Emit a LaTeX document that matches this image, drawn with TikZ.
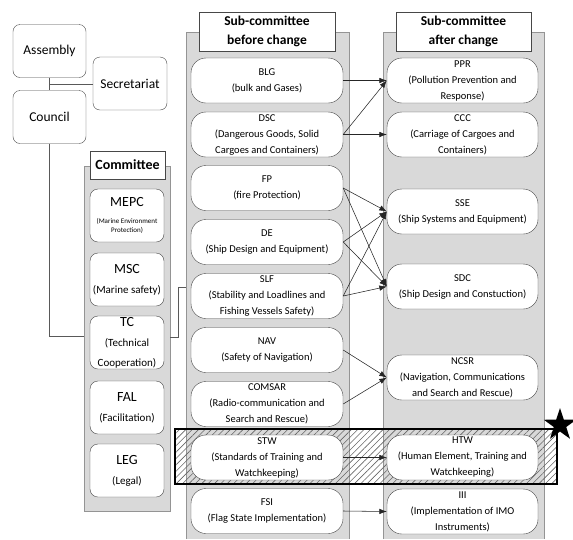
\documentclass[tikz,border=0pt]{standalone}
\usepackage{fontspec}
\setmainfont{Carlito}
\usetikzlibrary{arrows.meta}
\usetikzlibrary{patterns.meta}
\usetikzlibrary{shapes.geometric}
\colorlet{panelbg}{black!15}
\colorlet{panelrule}{black!42}
\colorlet{boxrule}{black!72}
\newcommand{\comname}[1]{{\fontsize{14}{20}\selectfont #1}}
\newcommand{\comfine}[1]{{\fontsize{7}{9}\selectfont #1}}
\tikzset{
  panel/.style={fill=panelbg,draw=panelrule,line width=0.6pt},
  orgbox/.style={draw=boxrule,fill=white,rounded corners=7pt,
    minimum width=73pt,minimum height=53pt,
    font=\fontsize{13.5}{16}\selectfont},
  headbox/.style={draw=boxrule,fill=white,align=center,inner sep=1pt,
    font=\bfseries\fontsize{13.5}{19}\selectfont},
  combox/.style={draw=boxrule,fill=white,rounded corners=8pt,align=center,
    minimum width=74pt,minimum height=53pt,inner sep=1pt,
    font=\fontsize{11}{20}\selectfont},
  subbox/.style={draw=boxrule,fill=white,rounded corners=15pt,align=center,
    minimum width=152pt,minimum height=45pt,inner sep=1pt,
    font=\fontsize{10.5}{16}\selectfont},
  move/.style={-{Latex[length=7.5pt,width=5.5pt]},draw=black!85,line width=0.55pt},
  wire/.style={draw=black!65,line width=0.6pt}
}

\begin{document}
\begin{tikzpicture}[x=1pt,y=-1pt]
    \useasboundingbox (0,0) rectangle (573,539);
    % Panels
    \draw[panel] (84,166) rectangle (170,511);
    \fill[panelbg] (186,32) rectangle (349,539);
    \draw[panelrule,line width=0.6pt] (186,539) -- (186,32) -- (349,32) -- (349,539);
    \fill[panelbg] (383,32) rectangle (544,539);
    \draw[panelrule,line width=0.6pt] (383,539) -- (383,32) -- (544,32) -- (544,539);
    % Changed row
    \draw[line width=2.2pt,pattern={Lines[angle=45,distance=4.5pt,line width=0.6pt]},
      pattern color=black!60] (175,429) rectangle (557,484);
    % Headers
    \node[headbox,minimum width=136pt,minimum height=39pt] (hbefore)
      at (267,31.5) {Sub-committee\\before change};
    \node[headbox,minimum width=135pt,minimum height=39pt] (hafter)
      at (463.5,31.5) {Sub-committee\\after change};
    \node[headbox,minimum width=75pt,minimum height=28pt,
      font=\bfseries\fontsize{14}{16}\selectfont] (hcom) at (127.5,165) {Committee};
    % Organs
    \node[orgbox] (assembly) at (49.5,51) {Assembly};
    \node[orgbox] (council) at (49.5,117) {Council};
    \node[orgbox,minimum width=74pt] (secretariat) at (130,83.5) {Secretariat};
    \coordinate (split) at (49.5,84);
    \coordinate (comin) at (84,336);
    \coordinate (tcout) at (170,337);
    \coordinate (slfin) at (186,287);
    \draw[wire] (assembly) -- (council);
    \draw[wire] (split) -- (split -| secretariat.west);
    \draw[wire] (council) |- (comin);
    \draw[wire] (tcout) -- ++(8,0) |- (slfin);
    % Committees
    \node[combox] (mepc) at (127,215.5)
      {\comname{MEPC}\\[-3pt]\comfine{(Marine Environment}\\[-11pt]\comfine{Protection)}};
    \node[combox] (msc) at (127,279.5) {\comname{MSC}\\(Marine safety)};
    \node[combox] (tc) at (127,342.5) {\comname{TC}\\(Technical\\Cooperation)};
    \node[combox] (fal) at (127,407.5) {\comname{FAL}\\(Facilitation)};
    \node[combox] (leg) at (127,470.5) {\comname{LEG}\\(Legal)};
    % Sub-committees before
    \node[subbox] (blg) at (267,80.5) {BLG\\(bulk and Gases)};
    \node[subbox] (dsc) at (267,134.5) {DSC\\(Dangerous Goods, Solid\\Cargoes and Containers)};
    \node[subbox] (fp) at (267,188) {FP\\(fire Protection)};
    \node[subbox] (de) at (267,242) {DE\\(Ship Design and Equipment)};
    \node[subbox] (slf) at (267,296) {SLF\\(Stability and Loadlines and\\Fishing Vessels Safety)};
    \node[subbox] (nav) at (267,350) {NAV\\(Safety of Navigation)};
    \node[subbox] (comsar) at (267,404) {COMSAR\\(Radio-communication and\\Search and Rescue)};
    \node[subbox] (stw) at (267,457.5) {STW\\(Standards of Training and\\Watchkeeping)};
    \node[subbox] (fsi) at (267,511) {FSI\\(Flag State Implementation)};
    % Sub-committees after
    \node[subbox,minimum width=151pt] (ppr) at (462.5,80.5) {PPR\\(Pollution Prevention and\\Response)};
    \node[subbox,minimum width=151pt] (ccc) at (462.5,134.5) {CCC\\(Carriage of Cargoes and\\Containers)};
    \node[subbox,minimum width=151pt] (sse) at (462.5,211.5) {SSE\\(Ship Systems and Equipment)};
    \node[subbox,minimum width=151pt] (sdc) at (462.5,286.5) {SDC\\(Ship Design and Constuction)};
    \node[subbox,minimum width=151pt] (ncsr) at (462.5,377.5) {NCSR\\(Navigation, Communications\\and Search and Rescue)};
    \node[subbox,minimum width=151pt] (htw) at (462.5,457.5) {HTW\\(Human Element, Training and\\Watchkeeping)};
    \node[subbox,minimum width=151pt] (iii) at (462.5,511.5) {III\\(Implementation of IMO\\Instruments)};
    % Changes
    \draw[move] (blg.east) -- (ppr.west);
    \draw[move] (dsc.east) -- (ppr.west);
    \draw[move] (dsc.east) -- (ccc.west);
    \foreach \src in {fp,de,slf} {
      \draw[move] (\src.east) -- (sse.west);
      \draw[move] (\src.east) -- (sdc.west);
    }
    \draw[move] (nav.east) -- (ncsr.west);
    \draw[move] (comsar.east) -- (ncsr.west);
    \draw[move] (stw.east) -- (htw.west);
    \draw[move] (fsi.east) -- (iii.west);
    \node[star,star points=5,star point ratio=2.6,fill=black,
      minimum size=34pt,inner sep=0pt] (flag) at (560,425) {};
  \end{tikzpicture}
\end{document}
